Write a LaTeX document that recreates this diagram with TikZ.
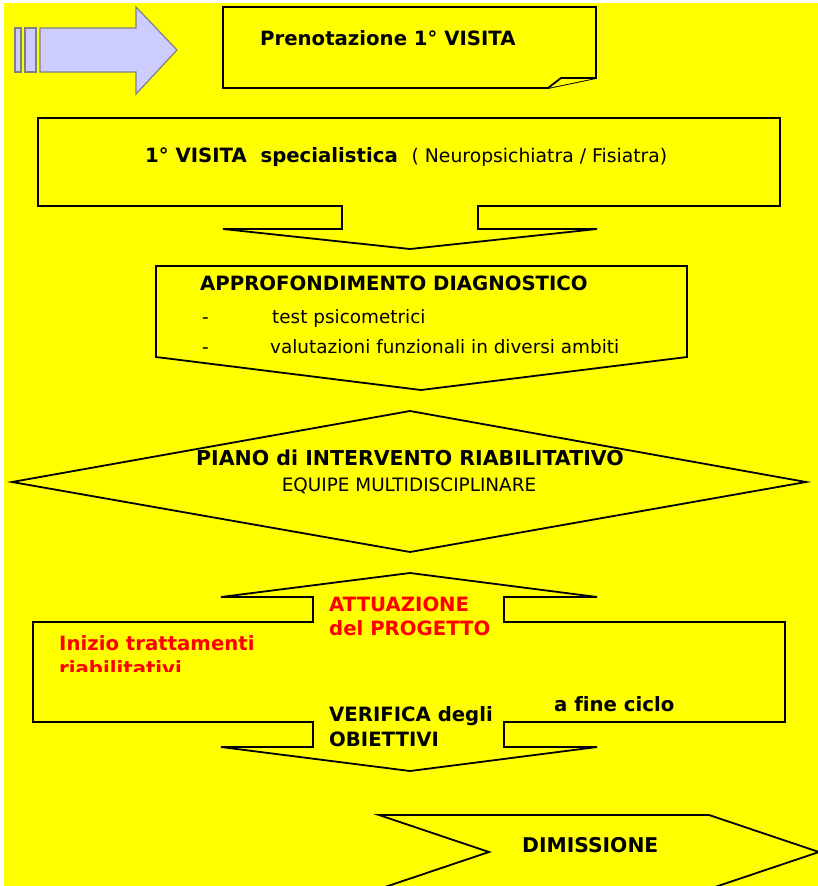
\documentclass[tikz,border=0pt]{standalone}
\usepackage{fontspec}
\setmainfont{DejaVu Sans}[Ligatures=NoCommon]
\definecolor{bgyellow}{RGB}{255,255,0}
\definecolor{lilac}{RGB}{204,204,255}
\definecolor{lilacline}{RGB}{128,128,128}
\definecolor{txtred}{RGB}{255,0,0}

\begin{document}
\begin{tikzpicture}[x=1pt, y=-1pt,
    block/.style = {draw, line width=1.8pt, fill=bgyellow, line join=miter},
    plain/.style = {inner sep=0pt, anchor=base west, font=\fontsize{18.4}{20}\selectfont},
    bold/.style = {plain, font=\fontsize{19.7}{22}\selectfont\bfseries},
    redbold/.style = {bold, text=txtred}]
    \clip (0,0) rectangle (818,886);
    \fill[white] (0,0) rectangle (818,886);
    \fill[bgyellow] (4,3) rectangle (818,886);

    \draw[lilacline, fill=lilac, line width=1.2pt] (40,28) -- (136,28) -- (136,7) -- (177,50)
        -- (136,94) -- (136,72) -- (40,72) -- cycle;
    \draw[lilacline, fill=lilac, line width=1.2pt] (15,28) rectangle (21,72);
    \draw[lilacline, fill=lilac, line width=1.2pt] (25,28) rectangle (36,72);

    \draw[block] (223,7) -- (596,7) -- (596,78) -- (548,88) -- (223,88) -- cycle;
    \draw[block] (548,88) -- (561,78) -- (596,78);
    \node[bold] (pren) at (260,45) {Prenotazione 1° VISITA};

    \draw[block] (38,118) -- (780,118) -- (780,206) -- (478,206) -- (478,229) -- (597,229)
        -- (410,249) -- (223,229) -- (342,229) -- (342,206) -- (38,206) -- cycle;
    \node[plain] (visita) at (145,162) {\fontsize{19.7}{22}\selectfont\bfseries 1° VISITA\ \ specialistica\ \ \mdseries\fontsize{18.8}{20}\selectfont( Neuropsichiatra / Fisiatra)};

    \draw[block] (156,266) -- (687,266) -- (687,357) -- (421,390) -- (156,357) -- cycle;
    \node[bold] (appro) at (200,290) {APPROFONDIMENTO DIAGNOSTICO};
    \node[plain] (dash1) at (202,323) {-};
    \node[plain] (test) at (272,323) {test psicometrici};
    \node[plain] (dash2) at (202,353) {-};
    \node[plain] (valut) at (270,353) {valutazioni funzionali in diversi ambiti};

    \draw[block] (12,482) -- (410,411) -- (806,482) -- (410,552) -- cycle;
    \node[bold, anchor=base, font=\fontsize{20.5}{22}\selectfont\bfseries] (piano) at (410,465) {PIANO di INTERVENTO RIABILITATIVO};
    \node[plain, anchor=base] (equipe) at (409,491) {EQUIPE MULTIDISCIPLINARE};

    \draw[block] (410,573) -- (597,597) -- (504,597) -- (504,622) -- (785,622) -- (785,722)
        -- (504,722) -- (504,747) -- (597,747) -- (410,771) -- (221,747) -- (313,747)
        -- (313,722) -- (33,722) -- (33,622) -- (313,622) -- (313,597) -- (221,597) -- cycle;
    \node[redbold] (attua) at (329,611) {ATTUAZIONE};
    \node[redbold] (progetto) at (329,635) {del PROGETTO};
    \node[redbold] (inizio) at (59,650) {Inizio trattamenti};
    \begin{scope}
        \clip (50,652) rectangle (260,671);
        \node[redbold] (riab) at (59,675) {riabilitativi};
    \end{scope}
    \node[bold] (verifica) at (329,721) {VERIFICA degli};
    \node[bold] (obiet) at (329,746) {OBIETTIVI};
    \node[bold] (fine) at (554,711) {a fine ciclo};

    \draw[block] (379,815) -- (709,815) -- (819,852) -- (709,889) -- (379,889) -- (489,852) -- cycle;
    \node[bold, font=\fontsize{20.3}{22}\selectfont\bfseries] (dimis) at (522,852) {DIMISSIONE};
\end{tikzpicture}
\end{document}
